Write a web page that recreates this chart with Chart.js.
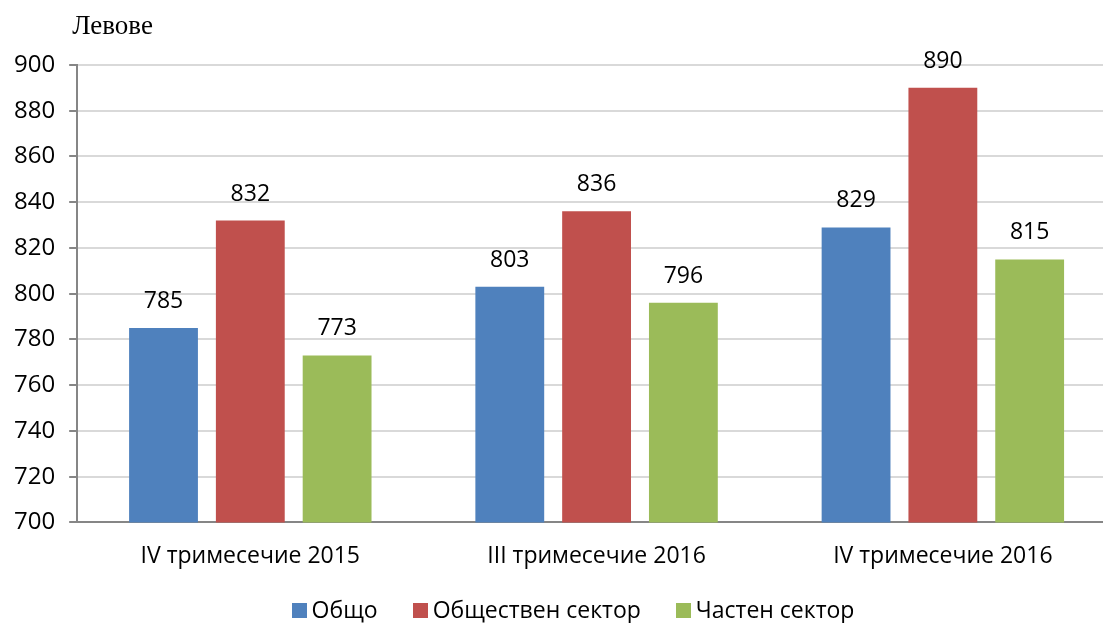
<!DOCTYPE html>
<html>
<head>
<meta charset="utf-8">
<script src="https://cdn.jsdelivr.net/npm/chart.js@4.4.1/dist/chart.umd.min.js"></script>
<style>
  html, body { margin: 0; padding: 0; background: #fff; overflow: hidden; }
  #wrap { position: relative; width: 1146px; height: 623px; }
  #legend {
    position: absolute; left: 0; top: 594px; width: 1146px;
    display: flex; justify-content: center; gap: 35px;
    font-family: "Open Sans", "DejaVu Sans", sans-serif; font-size: 23px; color: #000;
  }
  #legend .item { display: flex; align-items: center; gap: 5px; line-height: 30px; }
  #legend .box { width: 15px; height: 15px; margin-top: 2px; }
</style>
</head>
<body>
<div id="wrap">
  <canvas id="chart"></canvas>
  <div id="legend"></div>
</div>
<script>
// данни
const categories = ['IV тримесечие 2015', 'III тримесечие 2016', 'IV тримесечие 2016'];
const seriesNames = ['Общо', 'Обществен сектор', 'Частен сектор'];
const obshto = [785, 803, 829];
const obshtestven = [832, 836, 890];
const chasten = [773, 796, 815];
const yTicks = [700, 720, 740, 760, 780, 800, 820, 840, 860, 880, 900];
const colors = ['#4F81BD', '#C0504D', '#9BBB59'];

const font = '"Open Sans", "DejaVu Sans", sans-serif';

// етикети над колоните
const valueLabels = {
    id: 'valueLabels',
    afterDatasetsDraw(chart) {
        const ctx = chart.ctx;
        ctx.save();
        ctx.font = '23px ' + font;
        ctx.fillStyle = '#000';
        ctx.textAlign = 'center';
        ctx.textBaseline = 'alphabetic';
        chart.data.datasets.forEach((ds, i) => {
            chart.getDatasetMeta(i).data.forEach((bar, j) => {
                ctx.fillText(ds.data[j], bar.x, bar.y - 20);
            });
        });
        ctx.restore();
    }
};

// надпис "Левове"
const unitLabel = {
    id: 'unitLabel',
    afterDraw(chart) {
        const ctx = chart.ctx;
        ctx.save();
        ctx.font = '27px "Liberation Serif", "DejaVu Serif", serif';
        ctx.fillStyle = '#000';
        ctx.textAlign = 'left';
        ctx.textBaseline = 'alphabetic';
        ctx.fillText('Левове', chart.chartArea.left - 5, chart.chartArea.top - 31);
        ctx.restore();
    }
};

const ctx = document.getElementById('chart').getContext('2d');
new Chart(ctx, {
    type: 'bar',
    data: {
        labels: categories,
        datasets: [
            { label: seriesNames[0], data: obshto, backgroundColor: colors[0] },
            { label: seriesNames[1], data: obshtestven, backgroundColor: colors[1] },
            { label: seriesNames[2], data: chasten, backgroundColor: colors[2] }
        ]
    },
    options: {
        responsive: true,
        maintainAspectRatio: false,
        animation: false,
        categoryPercentage: 0.752,
        barPercentage: 0.793,
        layout: { padding: { top: 65, right: 30, bottom: 33, left: 0 } },
        scales: {
            x: {
                grid: { display: false, drawTicks: false },
                border: { color: '#868686', width: 2 },
                ticks: { color: '#000', font: { family: font, size: 23 }, padding: 20 }
            },
            y: {
                min: 700,
                max: 900,
                afterBuildTicks(axis) { axis.ticks = yTicks.map(v => ({ value: v })); },
                grid: { color: '#D9D9D9', lineWidth: 2, tickLength: 8, tickColor: '#868686' },
                border: { color: '#868686', width: 2 },
                ticks: { color: '#000', font: { family: font, size: 24 }, padding: 14 }
            }
        },
        plugins: {
            legend: { display: false },
            tooltip: { enabled: false }
        }
    },
    plugins: [valueLabels, unitLabel]
});

// легенда
const legendEl = document.getElementById('legend');
seriesNames.forEach((name, i) => {
    const item = document.createElement('div');
    item.className = 'item';
    const box = document.createElement('span');
    box.className = 'box';
    box.style.background = colors[i];
    const txt = document.createElement('span');
    txt.textContent = name;
    item.appendChild(box);
    item.appendChild(txt);
    legendEl.appendChild(item);
});
</script>
</body>
</html>
